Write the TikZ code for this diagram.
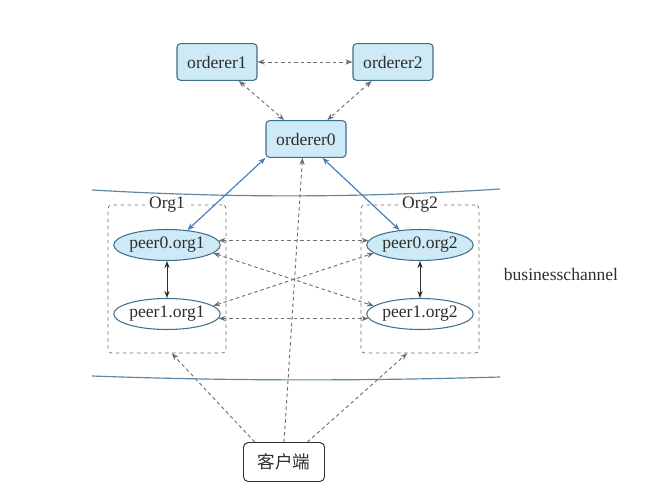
\documentclass[tikz,border=0pt]{standalone}
\usepackage{fontspec}
\setmainfont{Liberation Serif}
\newfontfamily\cjk{Noto Sans CJK SC}
\usetikzlibrary{arrows.meta,shapes.geometric}

\definecolor{boxfill}{HTML}{CDEAF6}
\definecolor{boxline}{HTML}{3F6F8C}
\definecolor{linkblue}{HTML}{4A7DB5}
\definecolor{chanblue}{HTML}{5B87A8}
\definecolor{dashgray}{HTML}{6E6E6E}
\definecolor{textgray}{HTML}{2E2E2E}

\tikzset{
	ordbox/.style={draw=boxline, fill=boxfill, line width=0.9pt, rounded corners=3pt, minimum width=2.4cm, minimum height=1.1cm, text=textgray},
	peer/.style={ellipse, draw=boxline, line width=0.9pt, minimum width=2.73cm, minimum height=0.93cm, inner sep=0pt, text=textgray},
	orgbox/.style={draw=dashgray, dashed, rounded corners=3pt, line width=0.6pt, minimum width=3.54cm, minimum height=4.44cm},
	clientbox/.style={draw=textgray, line width=0.8pt, rounded corners=4pt, minimum width=2.43cm, minimum height=1.17cm, text=textgray},
	dashlink/.style={draw=dashgray, line width=0.8pt, dash pattern=on 3pt off 2.5pt},
	bluelink/.style={draw=linkblue, line width=1pt},
	chanline/.style={draw=chanblue, line width=1pt}
}

\begin{document}
\begin{tikzpicture}[x=0.03cm, y=-0.03cm, font=\fontsize{15}{18}\selectfont, >={Stealth[length=6pt,width=4.5pt]}]

	\useasboundingbox (0,0) rectangle (654,488);

	\def\peerTop{245}
	\def\peerBottom{314}
	\def\orgMid{279}

	%channel borders
	\draw[chanline] (92,190) .. controls (230,198) and (360,198) .. (500,189);
	\draw[chanline] (92,376) .. controls (230,381) and (360,381) .. (500,377);
	\node[text=textgray] (channel) at (561,274) {businesschannel};

	%orderers
	\foreach \name/\x/\y in {orderer1/217/62, orderer2/393/62, orderer0/306/139}
	{
		\node[ordbox] (\name) at (\x,\y) {\name};
	}

	%orgs, names of the form org1, org2
	\foreach \n/\x in {1/167, 2/420}
	{
		\node[orgbox] (org\n) at (\x,\orgMid) {};
		\node[fill=white, inner sep=1.5pt, text=textgray] (orgLabel\n) at (org\n.north) {Org\n};
	}

	%peers, names of the form p0o1 (peer0.org1) ...
	\foreach \n/\x in {1/167, 2/420}
	{
		\node[peer, fill=boxfill] (p0o\n) at (\x,\peerTop) {peer0.org\n};
		\node[peer, fill=white] (p1o\n) at (\x,\peerBottom) {peer1.org\n};
		\draw[<->, textgray, line width=0.8pt] (p0o\n) -- (p1o\n);
	}

	%client
	\node[clientbox] (client) at (284,462) {\cjk 客户端};

	%orderer links
	\draw[dashlink, <->] (orderer1) -- (orderer2);
	\draw[dashlink, <->] (orderer1) -- (orderer0);
	\draw[dashlink, <->] (orderer2) -- (orderer0);
	\draw[bluelink, <->] (orderer0.south west) -- (p0o1.36);
	\draw[bluelink, <->] ([xshift=14pt]orderer0.south) -- (p0o2.144);

	%gossip between the orgs
	\draw[dashlink, <->] (p0o1.5) -- (p0o2.175);
	\draw[dashlink, <->] (p0o1.-10) -- (p1o2.170);
	\draw[dashlink, <->] (p1o1.10) -- (p0o2.-170);
	\draw[dashlink, <->] (p1o1.-5) -- (p1o2.185);

	%client links
	\draw[dashlink, ->] (client.north) -- ([xshift=-3pt]orderer0.south);
	\draw[dashlink, ->] ([xshift=-25pt]client.north) -- ([xshift=4pt]org1.south);
	\draw[dashlink, ->] ([xshift=20pt]client.north) -- ([xshift=-11pt]org2.south);

\end{tikzpicture}
\end{document}
